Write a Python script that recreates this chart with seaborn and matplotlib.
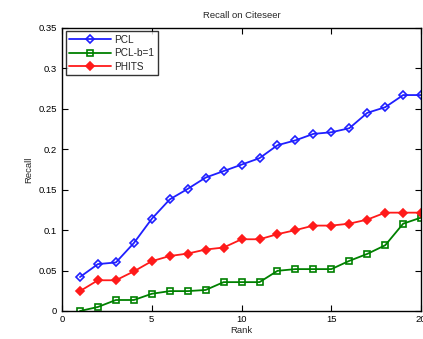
import numpy as np
import pandas as pd
import seaborn as sns
import matplotlib.pyplot as plt

rank = list(range(1, 21))
pcl = [0.042, 0.058, 0.060, 0.084, 0.114, 0.138, 0.151, 0.165, 0.173, 0.181,
       0.189, 0.205, 0.211, 0.219, 0.221, 0.226, 0.245, 0.252, 0.267, 0.267]
pcl_b1 = [0.000, 0.005, 0.0136, 0.0136, 0.0213, 0.0246, 0.0246, 0.026, 0.0357, 0.0357,
          0.0357, 0.0497, 0.0518, 0.0518, 0.0518, 0.062, 0.0706, 0.0813, 0.108, 0.1155]
phits = [0.0246, 0.038, 0.038, 0.049, 0.0616, 0.068, 0.071, 0.076, 0.0785, 0.0887,
         0.0887, 0.095, 0.100, 0.1056, 0.1056, 0.108, 0.113, 0.1216, 0.1216, 0.1216]

names = ['PCL', 'PCL-b=1', 'PHITS']
df = pd.DataFrame({
    'Rank': rank * 3,
    'Recall': pcl + pcl_b1 + phits,
    'method': [n for n in names for _ in rank],
})

sns.set_style('white')
plt.rcParams['font.family'] = ['Liberation Sans', 'DejaVu Sans']

fig = plt.figure(figsize=(4.23, 3.39), dpi=100)
ax = fig.add_axes([0.1466, 0.0826, 0.849, 0.835])

styles = {
    'PCL': dict(color='#1f1fff', marker='D', mfc='none', ms=4.2),
    'PCL-b=1': dict(color='#008000', marker='s', mfc='none', ms=3.8),
    'PHITS': dict(color='#ff1a1a', marker='D', mfc='#ff1a1a', ms=3.8),
}
for n in names:
    s = styles[n]
    sns.lineplot(data=df[df['method'] == n], x='Rank', y='Recall', ax=ax,
                 color=s['color'], marker=s['marker'], markersize=s['ms'],
                 markerfacecolor=s['mfc'], markeredgecolor=s['color'],
                 markeredgewidth=1.2, linewidth=1.3, label=n)

ax.set_xlim(0, 20)
ax.set_ylim(0, 0.35)
ax.set_xticks([0, 5, 10, 15, 20])
ax.set_yticks([0, 0.05, 0.1, 0.15, 0.2, 0.25, 0.3, 0.35])
ax.set_yticklabels(['0', '0.05', '0.1', '0.15', '0.2', '0.25', '0.3', '0.35'])
ax.tick_params(direction='in', length=4, width=0.8, labelsize=6.8,
               top=True, right=True, bottom=True, left=True, colors='black')
ax.tick_params(axis='x', pad=3)
for sp in ax.spines.values():
    sp.set_color('black')
    sp.set_linewidth(1.0)
ax.set_xlabel('Rank', fontsize=6.8, labelpad=1)
ax.set_ylabel('Recall', fontsize=6.8, labelpad=4)
ax.set_title('Recall on Citeseer', fontsize=6.8, pad=7)

leg = ax.legend(loc='upper left', fontsize=7.2, frameon=True, fancybox=False,
                borderaxespad=0.35, handlelength=4.2, labelspacing=0.35,
                borderpad=0.35, handletextpad=0.3)
leg.get_frame().set_edgecolor('black')
leg.get_frame().set_linewidth(1.0)

fig.savefig('out.png', dpi=100)
